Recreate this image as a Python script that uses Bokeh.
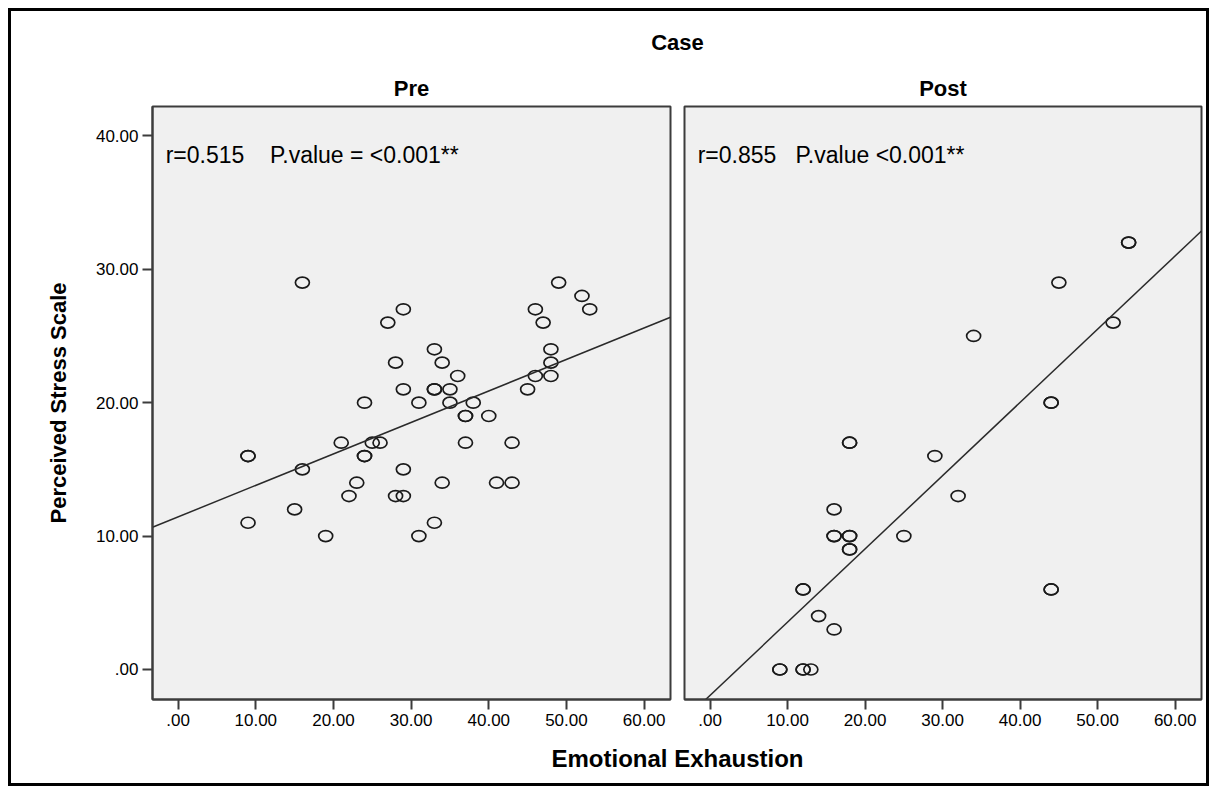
from bokeh.plotting import figure
from bokeh.models import Range1d, FixedTicker, Label, ColumnDataSource
from bokeh.layouts import column, row
from bokeh.core.properties import value
from bokeh.embed import file_html
from bokeh.resources import INLINE

# ---------------- data ----------------
pre_x = [9, 9, 9, 15, 16, 16, 19, 21, 22, 23, 24, 24, 24, 25, 26, 27, 28, 28, 29, 29, 29, 29,
         31, 31, 33, 33, 33, 33, 34, 34, 35, 35, 36, 37, 37, 37, 38, 40, 41, 43, 43, 45, 46,
         46, 47, 48, 48, 48, 49, 52, 53]
pre_y = [16, 16, 11, 12, 29, 15, 10, 17, 13, 14, 20, 16, 16, 17, 17, 26, 23, 13, 27, 21, 15, 13,
         20, 10, 24, 21, 21, 11, 23, 14, 21, 20, 22, 19, 19, 17, 20, 19, 14, 17, 14, 21, 27,
         22, 26, 24, 23, 22, 29, 28, 27]

post_x = [9, 9, 12, 12, 13, 12, 12, 14, 16, 16, 16, 16, 18, 18, 18, 18, 18, 18, 25, 29, 32, 34,
          44, 44, 44, 44, 45, 52, 54, 54]
post_y = [0, 0, 0, 0, 0, 6, 6, 4, 3, 12, 10, 10, 10, 10, 9, 9, 17, 17, 10, 16, 13, 25,
          20, 20, 6, 6, 29, 26, 32, 32]

# fit lines as drawn in the picture (intercept, slope)
pre_fit = (11.44, 0.236)
post_fit = (-1.94, 0.549)

NB = "\u00a0"
pre_note = "r=0.515" + NB * 4 + "P.value = <0.001**"
post_note = "r=0.855" + NB * 3 + "P.value <0.001**"

x_ticks = [0, 10, 20, 30, 40, 50, 60]
x_tick_labels = [".00", "10.00", "20.00", "30.00", "40.00", "50.00", "60.00"]
y_ticks = [0, 10, 20, 30, 40]
y_tick_labels = [".00", "10.00", "20.00", "30.00", "40.00"]

X_LO, X_HI = -3.3, 63.4
Y_LO, Y_HI = -2.25, 42.2

FONT = value("Liberation Sans")
FRAME = "#3c3c3c"
INNER_W = 1195


def panel(xs, ys, fit, note, first):
    p = figure(width=666 if first else 527, height=640,
               x_range=Range1d(X_LO, X_HI), y_range=Range1d(Y_LO, Y_HI),
               output_backend="svg", toolbar_location=None,
               y_axis_location="left" if first else None,
               min_border_left=141 if first else 7,
               min_border_right=7 if first else 3,
               min_border_top=6, min_border_bottom=41)
    p.grid.visible = False
    p.background_fill_color = "#f0f0f0"
    p.border_fill_color = "white"
    p.outline_line_color = FRAME
    p.outline_line_width = 2

    axes = [p.xaxis[0]] + ([p.yaxis[0]] if first else [])
    for ax in axes:
        ax.axis_line_color = FRAME
        ax.axis_line_width = 2
        ax.major_tick_line_color = FRAME
        ax.major_tick_line_width = 2
        ax.major_tick_out = 10
        ax.major_tick_in = 0
        ax.minor_tick_line_color = None
        ax.major_label_text_font = "Liberation Sans"
        ax.major_label_text_font_size = "17px"
        ax.major_label_text_color = "black"
        ax.major_label_standoff = 4
    p.xaxis.ticker = FixedTicker(ticks=x_ticks)
    p.xaxis.major_label_overrides = dict(zip(x_ticks, x_tick_labels))
    if first:
        p.yaxis.ticker = FixedTicker(ticks=y_ticks)
        p.yaxis.major_label_overrides = dict(zip(y_ticks, y_tick_labels))
        p.yaxis.axis_label = "Perceived Stress Scale"
        p.yaxis.axis_label_text_font = "Liberation Sans"
        p.yaxis.axis_label_text_font_style = "bold"
        p.yaxis.axis_label_text_font_size = "22px"
        p.yaxis.axis_label_text_color = "black"
        p.yaxis.axis_label_standoff = 22

    src = ColumnDataSource(dict(x=xs, y=ys))
    p.ellipse(x="x", y="y", width=14, height=11, width_units="screen",
              height_units="screen", fill_color=None, line_color="#1a1a1a",
              line_width=1.7, source=src)

    b0, b1 = fit
    lx = [X_LO, X_HI]
    p.line(lx, [b0 + b1 * v for v in lx], line_color="#2a2a2a", line_width=1.5)

    p.add_layout(Label(x=-1.6, y=38.6, text=note, text_font="Liberation Sans",
                       text_font_size="23px", text_baseline="middle", text_color="black"))
    return p


left = panel(pre_x, pre_y, pre_fit, pre_note, True)
right = panel(post_x, post_y, post_fit, post_note, False)


def strip(h):
    s = figure(width=INNER_W, height=h, x_range=Range1d(0, INNER_W), y_range=Range1d(0, h),
               output_backend="svg", toolbar_location=None, min_border=0,
               x_axis_location=None, y_axis_location=None)
    s.grid.visible = False
    s.outline_line_color = None
    s.background_fill_color = "white"
    s.border_fill_color = "white"
    return s


top = strip(89)
top.text(x=[666, 400, 931.5], y=[58, 12, 12], text=["Case", "Pre", "Post"],
         text_font=FONT, text_font_style="bold", text_font_size="22px",
         text_align="center", text_baseline="middle", text_color="black")

bottom = strip(43)
bottom.text(x=[666], y=[25], text=["Emotional Exhaustion"],
            text_font=FONT, text_font_style="bold", text_font_size="24px",
            text_align="center", text_baseline="middle", text_color="black")

layout = column(top, row(left, right), bottom, spacing=0,
                styles={"border": "3px solid black", "margin-left": "8px",
                        "margin-top": "8px"})

open("out.html", "w").write(file_html(layout, INLINE))
